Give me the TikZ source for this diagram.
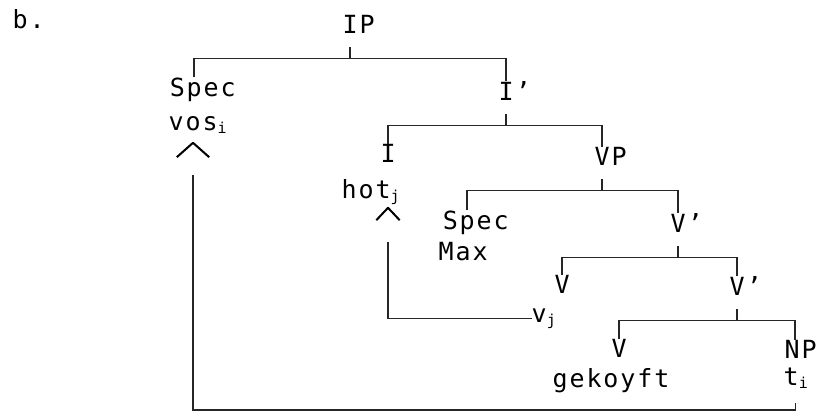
\documentclass[tikz,border=0pt]{standalone}
\usepackage{fontspec}
\usepackage{tikz}
\newfontfamily\dotfont[LetterSpace=7.5]{DejaVu Sans Mono}
\newcommand{\idx}[1]{\raisebox{-3pt}{\fontsize{15}{15}\selectfont #1}}

\begin{document}
\begin{tikzpicture}[x=1pt,y=1pt,
    lab/.style={anchor=base west,inner sep=0pt,font=\dotfont\fontsize{25}{30}\selectfont},
    hd/.style={xshift=7.5pt},
    hdtwo/.style={xshift=24.4pt},
    caret/.style={inner sep=0pt},
    tip/.style={line width=2pt,line join=round},
    br/.style={line width=1.1pt,black!85}]
  \useasboundingbox (0,0) rectangle (818,-416);
  % labels
  \node[lab] (b) at (12.5,-28) {b.};
  \node[lab] (ip) at (342.5,-33) {IP};
  \node[lab] (spec1) at (169.6,-96) {Spec};
  \node[lab] (vos) at (168.5,-130) {vos\idx{i}};
  \node[lab] (ib) at (498.5,-100) {I’};
  \node[lab] (i) at (380.5,-162) {I};
  \node[lab] (hot) at (341.5,-198) {hot\idx{j}};
  \node[lab] (vp) at (594.5,-165) {VP};
  \node[lab] (spec2) at (442.6,-229) {Spec};
  \node[lab] (max) at (438.5,-260) {Max};
  \node[lab] (vb1) at (670.5,-232) {V’};
  \node[lab] (v1) at (554.5,-293) {V};
  \node[lab] (vb2) at (729.5,-295) {V’};
  \node[lab] (vj) at (531.5,-322) {v\idx{j}};
  \node[lab] (v2) at (611.5,-357) {V};
  \node[lab] (np) at (784.5,-358) {NP};
  \node[lab] (gek) at (552.5,-387) {gekoyft};
  \node[lab] (ti) at (783.5,-385) {t\idx{i}};
  % carets
  \node[caret,minimum width=32pt,minimum height=14pt] (up1) at (193,-150) {};
  \node[caret,minimum width=23pt,minimum height=12pt] (up2) at (388,-214) {};
  \draw[tip] (up1.south west) -- (up1.north) -- (up1.south east);
  \draw[tip] (up2.south west) -- (up2.north) -- (up2.south east);
  % branches
  \draw[br] ([hd,yshift=-14pt]ip.south west) -- ++(0,-11) coordinate (ipx);
  \draw[br] ([hdtwo]spec1.north west) |- (ipx) -| ([hd]ib.north west);
  \draw[br] ([hd,yshift=-14pt]ib.south west) -- ++(0,-11) coordinate (ibx);
  \draw[br] ([hd]i.north west) |- (ibx) -| ([hd]vp.north west);
  \draw[br] ([hd,yshift=-14pt]vp.south west) -- ++(0,-11) coordinate (vpx);
  \draw[br] ([hdtwo]spec2.north west) |- (vpx) -| ([hd]vb1.north west);
  \draw[br] ([hd,yshift=-14pt]vb1.south west) -- ++(0,-11) coordinate (vbx);
  \draw[br] ([hd]v1.north west) |- (vbx) -| ([hd]vb2.north west);
  \draw[br] ([hd,yshift=-14pt]vb2.south west) -- ++(0,-11) coordinate (vcx);
  \draw[br] ([hd]v2.north west) |- (vcx) -| ([hd,xshift=3pt]np.north west);
  % movement
  \draw[br] ([xshift=12pt,yshift=-18pt]ti.base west) -- ++(0,-7) -| ([yshift=-18pt]up1.south);
  \draw[br] (vj.west) -| ([yshift=-22pt]up2.south);
\end{tikzpicture}
\end{document}
